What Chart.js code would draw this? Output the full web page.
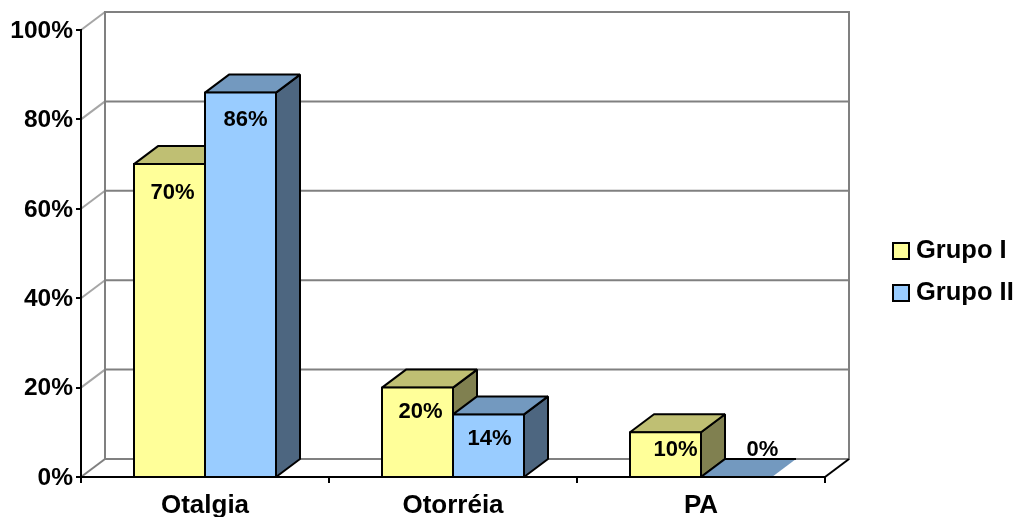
<!DOCTYPE html>
<html>
<head>
<meta charset="utf-8">
<style>
  html, body { margin: 0; padding: 0; background: #fff; }
  canvas { display: block; }
</style>
<script src="https://cdn.jsdelivr.net/npm/chart.js@4/dist/chart.umd.min.js"></script>
</head>
<body>
<canvas id="chartSintomas" width="1018" height="517"></canvas>
<script>
const categories = ['Otalgia', 'Otorréia', 'PA'];
const grupoI = [70, 20, 10];
const grupoII = [86, 14, 0];
const seriesNames = ['Grupo I', 'Grupo II'];
const tickValues = [0, 20, 40, 60, 80, 100];

// front, top and side shades for each series
const frontColors = ['#FFFF99', '#99CCFF'];
const topColors = ['#BFBF73', '#7399BF'];
const sideColors = ['#808050', '#4D6680'];

// offset of the back wall from the front plane
const DEPTH_X = 24;
const DEPTH_Y = -18;

// value label offsets from the top centre of each bar, [dx, dy] per series and category
const labelNudge = [
  [[3, 29], [3, 24], [10, 18]],
  [[5, 27], [1, 25], [26, -27]]
];

const FONT_FAMILY = '"Liberation Sans", Arial, sans-serif';

function tracePath(ctx, points) {
  ctx.beginPath();
  points.forEach((p, i) => (i === 0 ? ctx.moveTo(p[0], p[1]) : ctx.lineTo(p[0], p[1])));
  ctx.closePath();
}

function fillFace(ctx, points, fill) {
  tracePath(ctx, points);
  ctx.fillStyle = fill;
  ctx.fill();
  ctx.lineWidth = 2;
  ctx.strokeStyle = '#000';
  ctx.lineJoin = 'bevel';
  ctx.stroke();
}

function strokeLine(ctx, x1, y1, x2, y2, color, width) {
  ctx.beginPath();
  ctx.moveTo(x1, y1);
  ctx.lineTo(x2, y2);
  ctx.strokeStyle = color;
  ctx.lineWidth = width;
  ctx.stroke();
}

// back wall, side wall and floor
const wallsPlugin = {
  id: 'walls',
  beforeDraw(chart) {
    const { ctx, chartArea: a, scales: { y } } = chart;
    ctx.save();
    tickValues.forEach(v => {
      const py = y.getPixelForValue(v);
      strokeLine(ctx, a.left, py, a.left + DEPTH_X, py + DEPTH_Y, v === 0 ? '#808080' : '#A6A6A6', 2);
      strokeLine(ctx, a.left + DEPTH_X, py + DEPTH_Y, a.right + DEPTH_X, py + DEPTH_Y, '#808080', 2);
    });
    strokeLine(ctx, a.left + DEPTH_X, a.top + DEPTH_Y - 1, a.left + DEPTH_X, a.bottom + DEPTH_Y, '#808080', 2);
    strokeLine(ctx, a.right + DEPTH_X, a.top + DEPTH_Y - 1, a.right + DEPTH_X, a.bottom + DEPTH_Y + 1, '#808080', 2);
    strokeLine(ctx, a.right, a.bottom, a.right + DEPTH_X, a.bottom + DEPTH_Y, '#000', 2);
    ctx.restore();
  }
};

// top and side faces go under the front faces Chart.js draws
const barDepthPlugin = {
  id: 'barDepth',
  beforeDatasetsDraw(chart) {
    const { ctx, scales: { y } } = chart;
    const base = y.getPixelForValue(0);
    ctx.save();
    chart.data.datasets.forEach((ds, s) => {
      chart.getDatasetMeta(s).data.forEach((bar, i) => {
        const left = bar.x - bar.width / 2;
        const right = bar.x + bar.width / 2;
        const top = bar.y;
        if (ds.data[i] === 0) {
          // empty bar is just a patch on the floor, open on its right edge
          tracePath(ctx, [
            [left, base], [left + DEPTH_X, base + DEPTH_Y],
            [right + DEPTH_X, base + DEPTH_Y], [right, base]
          ]);
          ctx.fillStyle = topColors[s];
          ctx.fill();
          strokeLine(ctx, left, base, left + DEPTH_X, base + DEPTH_Y, '#000', 2);
          strokeLine(ctx, left + DEPTH_X, base + DEPTH_Y, right + DEPTH_X, base + DEPTH_Y, '#000', 2);
          return;
        }
        fillFace(ctx, [
          [right, top], [right + DEPTH_X, top + DEPTH_Y],
          [right + DEPTH_X, base + DEPTH_Y], [right, base]
        ], sideColors[s]);
        fillFace(ctx, [
          [left, top], [left + DEPTH_X, top + DEPTH_Y],
          [right + DEPTH_X, top + DEPTH_Y], [right, top]
        ], topColors[s]);
      });
    });
    ctx.restore();
  }
};

const valueLabelPlugin = {
  id: 'valueLabels',
  afterDatasetsDraw(chart) {
    const { ctx } = chart;
    ctx.save();
    ctx.font = 'bold 22px ' + FONT_FAMILY;
    ctx.fillStyle = '#000';
    ctx.textAlign = 'center';
    ctx.textBaseline = 'middle';
    chart.data.datasets.forEach((ds, s) => {
      chart.getDatasetMeta(s).data.forEach((bar, i) => {
        const n = labelNudge[s][i];
        ctx.fillText(ds.data[i] + '%', bar.x + n[0], bar.y + n[1]);
      });
    });
    ctx.restore();
  }
};

// legend sits outside the plot, fixed to the right edge
const sideLegendPlugin = {
  id: 'sideLegend',
  afterDraw(chart) {
    const { ctx } = chart;
    ctx.save();
    chart.data.datasets.forEach((ds, s) => {
      const boxTop = 243 + s * 42;
      ctx.fillStyle = frontColors[s];
      ctx.fillRect(893, boxTop, 16, 16);
      ctx.strokeStyle = '#000';
      ctx.lineWidth = 2;
      ctx.strokeRect(893, boxTop, 16, 16);
      ctx.fillStyle = '#000';
      ctx.font = 'bold 25.5px ' + FONT_FAMILY;
      ctx.textAlign = 'left';
      ctx.textBaseline = 'middle';
      ctx.fillText(ds.label, 916, boxTop + 8);
    });
    ctx.restore();
  }
};

new Chart(document.getElementById('chartSintomas'), {
  type: 'bar',
  data: {
    labels: categories,
    datasets: [grupoI, grupoII].map((values, s) => ({
      label: seriesNames[s],
      data: values,
      backgroundColor: frontColors[s],
      borderColor: '#000',
      // the axis line closes the bottom of each bar
      borderWidth: { top: 2, left: 2, right: 2, bottom: 0 },
      borderSkipped: false,
      inflateAmount: 1,
      barPercentage: 1,
      categoryPercentage: 0.5726
    }))
  },
  plugins: [wallsPlugin, barDepthPlugin, valueLabelPlugin, sideLegendPlugin],
  options: {
    responsive: false,
    animation: false,
    layout: { padding: { top: 30, right: 193, bottom: 0, left: 0 } },
    plugins: { legend: { display: false }, tooltip: { enabled: false } },
    scales: {
      x: {
        afterFit: scale => { scale.height = 40; },
        border: { color: '#000', width: 2, z: 1 },
        grid: { drawOnChartArea: false, drawTicks: true, tickLength: 6, color: '#000', lineWidth: 2 },
        ticks: {
          color: '#000',
          padding: 7,
          maxRotation: 0,
          autoSkip: false,
          font: { family: FONT_FAMILY, size: 26, weight: 'bold' }
        }
      },
      y: {
        min: 0,
        max: 100,
        afterFit: scale => { scale.width = 81; },
        afterBuildTicks: scale => { scale.ticks = tickValues.map(value => ({ value })); },
        border: { color: '#000', width: 2 },
        grid: { drawOnChartArea: false, drawTicks: true, tickLength: 5, color: '#000', lineWidth: 2 },
        ticks: {
          color: '#000',
          padding: 3,
          labelOffset: 1,
          callback: v => v + '%',
          font: { family: FONT_FAMILY, size: 24.5, weight: 'bold' }
        }
      }
    }
  }
});
</script>
</body>
</html>
